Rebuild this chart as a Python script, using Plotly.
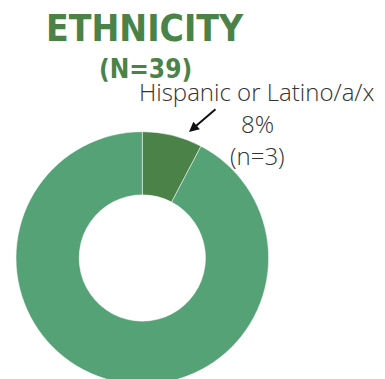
import plotly.graph_objects as go

labels = ["Hispanic or Latino/a/x", "Not Hispanic or Latino/a/x"]
counts = [3, 36]
colors = ["#4a8247", "#54a275"]
title_main = "ETHNICITY"
title_sub = "(N=39)"
total = sum(counts)

W, H = 385, 385
TITLE_FONT = "DejaVu Sans Condensed, Liberation Sans Narrow, Arial Narrow, sans-serif"

fig = go.Figure(go.Pie(
    labels=labels,
    values=counts,
    sort=False,
    direction="clockwise",
    rotation=0,
    hole=0.5,
    marker=dict(colors=colors, line=dict(color="white", width=0.5)),
    textinfo="none",
    hoverinfo="none",
    showlegend=False,
    domain=dict(x=[16 / W, 268.6 / W], y=[(H - 384.3) / H, (H - 131.7) / H]),
))

pct = round(counts[0] / total * 100)


def px(y):
    return 1 - y / H


fig.add_annotation(x=145 / W, y=px(28), xref="paper", yref="paper",
                   xanchor="center", yanchor="middle",
                   text="<b>" + title_main + "</b>", showarrow=False,
                   font=dict(family=TITLE_FONT, size=37, color="#4a8247"))
fig.add_annotation(x=145 / W, y=px(69), xref="paper", yref="paper",
                   xanchor="center", yanchor="middle",
                   text="<b>" + title_sub + "</b>", showarrow=False,
                   font=dict(family=TITLE_FONT, size=26, color="#4a8247"))
label_lines = [labels[0], f"{pct}%", f"(n={counts[0]})"]
label_y = [92, 123, 155]
for line, yy in zip(label_lines, label_y):
    fig.add_annotation(x=257 / W, y=px(yy), xref="paper", yref="paper",
                       xanchor="center", yanchor="middle",
                       text=line, showarrow=False,
                       font=dict(family="Open Sans", size=24, color="#333333", weight=300))
fig.add_annotation(x=189 / W, y=px(132), xref="paper", yref="paper",
                   ax=28, ay=-24, axref="pixel", ayref="pixel",
                   text="", showarrow=True, arrowhead=2, arrowsize=1, arrowwidth=2,
                   arrowcolor="#111111")

fig.update_layout(width=W, height=H, margin=dict(l=0, r=0, t=0, b=0),
                  paper_bgcolor="white", plot_bgcolor="white")

fig.write_html("out.html", config={"displayModeBar": False},
               post_script="document.body.style.overflow='hidden';document.body.style.margin='0';")
